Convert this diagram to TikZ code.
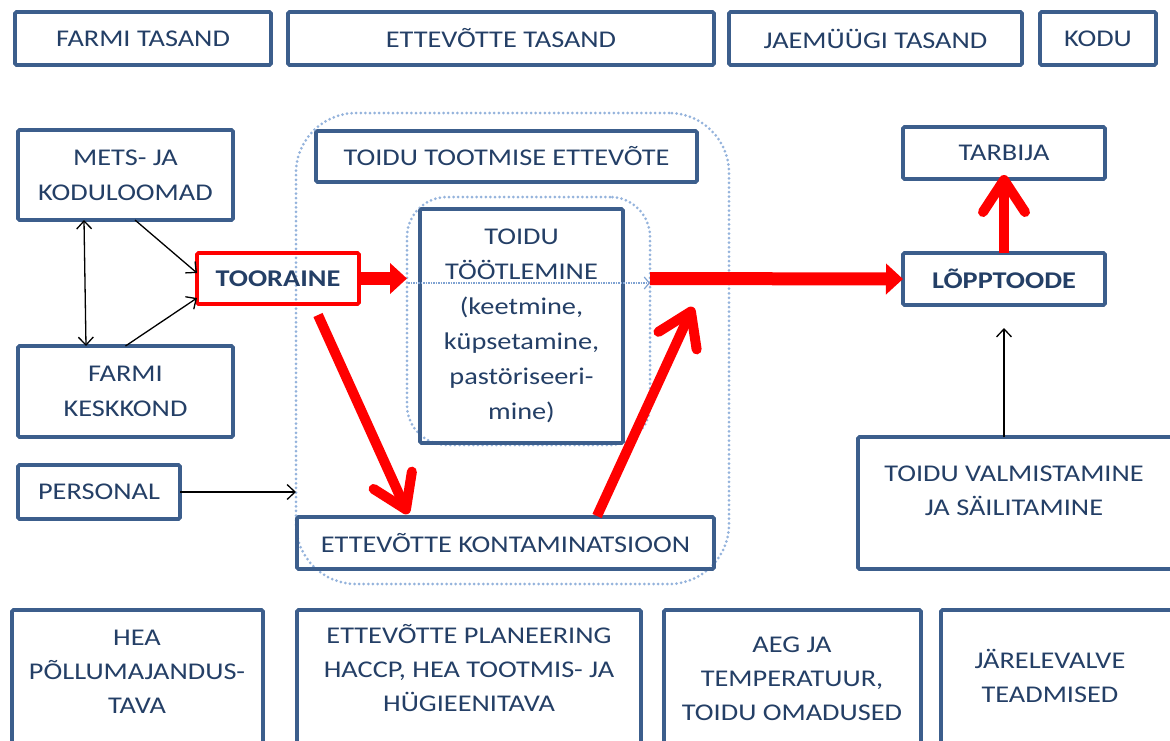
\documentclass[tikz,border=0pt]{standalone}
\usepackage{fontspec}
\setmainfont{Carlito}[FakeStretch=1.18]
\usetikzlibrary{arrows.meta}
\definecolor{bxc}{HTML}{3C5E8C}
\definecolor{txc}{HTML}{243F66}
\definecolor{dotc}{HTML}{94B3DC}
\definecolor{linec}{HTML}{7FA2D2}
\definecolor{redc}{HTML}{FF0000}
\begin{document}
\begin{tikzpicture}[x=1pt,y=-1pt,
 box/.style={draw=bxc, line width=3.6pt, rounded corners=1.5pt, inner sep=0pt, outer sep=0pt, text=txc, font=\fontsize{24}{35}\selectfont, align=center},
 redbox/.style={box, draw=redc},
 dotbox/.style={draw=dotc, line width=3pt, dash pattern=on 0pt off 4.6pt, line cap=round, inner sep=0pt, outer sep=0pt},
 lbl/.style={text=txc, font=\fontsize{24}{34}\selectfont, align=center, inner sep=0pt},
 thin/.style={line width=1.3pt, black, -{Straight Barb[length=8pt,width=15pt]}},
 thinboth/.style={line width=1.3pt, black, {Straight Barb[length=8pt,width=15pt]}-{Straight Barb[length=8pt,width=15pt]}},
 block/.style={redc, line width=13pt, -{Triangle[length=17pt,width=30pt]}},
 barb/.style={redc, line width=10pt, -{Straight Barb[length=32pt,width=42pt,round]}},
 bluearrow/.style={linec, line width=1.2pt, dash pattern=on 1.5pt off 1pt, -{Straight Barb[length=5pt,width=12pt]}},
]
\useasboundingbox (0,0) rectangle (1170,740);
\clip (0,0) rectangle (1170,740);
\fill[white] (0,0) rectangle (1170,740);

% dotted groups
\node[dotbox, rounded corners=60pt, minimum width=433pt, minimum height=471pt] (outer) at (512.5,348.5) {};
\node[dotbox, rounded corners=40pt, minimum width=243pt, minimum height=248pt] (inner) at (528.5,321) {};

% top row
\node[box, minimum width=256pt, minimum height=53pt] (farm) at (143,38.5) {FARMI TASAND};
\node[box, minimum width=426pt, minimum height=53pt] (etttas) at (501,38.5) {ETTEVÕTTE TASAND};
\node[box, minimum width=293pt, minimum height=53pt] (jae) at (875.5,38.5) {JAEMÜÜGI TASAND};
\node[box, minimum width=116pt, minimum height=53pt] (kodu) at (1098,38.5) {KODU};

% middle
\node[box, minimum width=215pt, minimum height=90pt] (mets) at (125.5,175) {METS- JA\\KODULOOMAD};
\node[redbox, minimum width=162pt, minimum height=51pt, font=\fontsize{24}{35}\selectfont\bfseries] (toor) at (278,278.5) {TOORAINE};
\node[box, minimum width=215pt, minimum height=91pt] (farmk) at (125.5,391.5) {FARMI\\KESKKOND};
\node[box, minimum width=162pt, minimum height=54pt] (pers) at (99,492) {PERSONAL};
\node[box, minimum width=381pt, minimum height=51pt] (tte) at (506.5,156.5) {TOIDU TOOTMISE ETTEVÕTE};
\node[box, minimum width=203pt, minimum height=234pt] (tootl) at (521.5,326) {TOIDU\\TÖÖTLEMINE\\(keetmine,\\küpsetamine,\\pastöriseeri-\\mine)};
\node[box, minimum width=417pt, minimum height=52pt] (kont) at (505.5,543) {ETTEVÕTTE KONTAMINATSIOON};
\node[box, minimum width=202pt, minimum height=52pt] (tarb) at (1004,153) {TARBIJA};
\node[box, minimum width=202pt, minimum height=52pt, font=\fontsize{24}{35}\selectfont\bfseries] (lopp) at (1004,279) {LÕPPTOODE};
\node[box, minimum width=318pt, minimum height=132pt] (valm) at (1017,503) {};
\node[lbl] (valmt) at (1014,490.5) {TOIDU VALMISTAMINE\\JA SÄILITAMINE};

% bottom row
\node[box, minimum width=251pt, minimum height=150pt] (hea) at (137.5,685) {};
\node[lbl] (heat) at (137,671.5) {HEA\\PÕLLUMAJANDUS-\\TAVA};
\node[box, minimum width=344pt, minimum height=150pt] (plan) at (469,685) {};
\node[lbl] (plant) at (469,668) {ETTEVÕTTE PLANEERING\\HACCP, HEA TOOTMIS- JA\\HÜGIEENITAVA};
\node[box, minimum width=257pt, minimum height=150pt] (aeg) at (792.5,685) {};
\node[lbl] (aegt) at (792,678.5) {AEG JA\\TEMPERATUUR,\\TOIDU OMADUSED};
\node[box, minimum width=234pt, minimum height=150pt] (jar) at (1058,685) {};
\node[lbl] (jart) at (1050,675.5) {JÄRELEVALVE\\TEADMISED};

% coordinates
\coordinate (bl1) at (408,283);
\coordinate (bl2) at (650,283);
\coordinate (d1s) at (318,315);
\coordinate (d1e) at (408,514);
\coordinate (d2s) at (597,516);
\coordinate (d2e) at (693,307);
\coordinate (vt) at (1004,328);

% thin arrows
\draw[thinboth] ([xshift=-41.5pt]mets.south) -- ([xshift=-39.5pt]farmk.north);
\draw[thin] ([xshift=9.5pt]mets.south) -- ([yshift=5.5pt]toor.west);
\draw[thin] (farmk.north) -- ([yshift=-19.5pt]toor.west);
\draw[thin] (pers.east) -- (pers.east -| outer.west);
\draw[thin] (valm.north -| lopp.south) -- (vt);
\draw[bluearrow] (bl1) -- (bl2);

% red arrows
\draw[block] (toor.east) -- (toor.east -| inner.west);
\draw[block] (inner.east |- toor.east) -- (lopp.west);
\draw[barb] (d1s) -- (d1e);
\draw[barb] (d2s) -- (d2e);
\draw[barb] (lopp.north) -- ([yshift=4pt]tarb.south);
\end{tikzpicture}
\end{document}
